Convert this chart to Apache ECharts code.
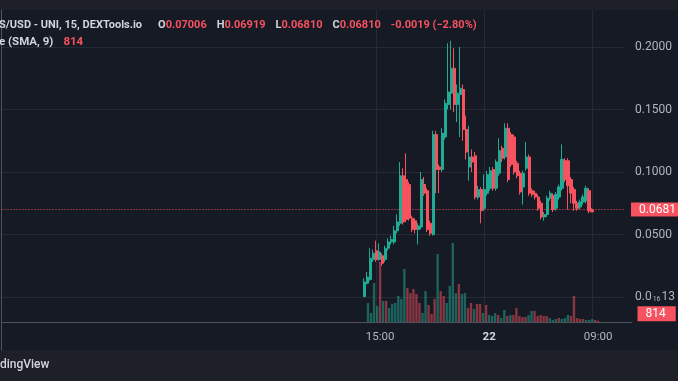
<!DOCTYPE html>
<html><head><meta charset="utf-8">
<script src="https://cdn.jsdelivr.net/npm/echarts@6/dist/echarts.min.js"></script>
<style>
html,body{margin:0;padding:0;background:#161a25;}
#wrap{position:relative;width:678px;height:381px;overflow:hidden;background:#161a25;}
#topbar{position:absolute;left:0;top:0;width:678px;height:10px;background:#1e2029;}
#botbar{position:absolute;left:0;top:350px;width:678px;height:31px;background:#1e2029;}
#chart{position:absolute;left:0;top:0;width:678px;height:381px;}
</style></head><body>
<div id="wrap"><div id="topbar"></div><div id="botbar"></div><div id="chart"></div></div>
<script>
// ---- time axis ----
const START_DAY = 20;
const START_TIME = '07:45';
const SLOT_COUNT = 209;
const SLOT_MIN = 15;
const tickLabels = {'21 15:00': '15:00', '22 00:00': '22', '22 09:00': '09:00'};
const priceTicks = [0, 0.05, 0.1, 0.15, 0.2];
const candleStart = '21 14:00';

// ---- OHLC (15 min candles) ----
const opens = [0.0003,0.011,0.014,0.030,0.037,0.030,0.033,0.030,0.039,0.044,0.044,0.053,0.059,0.097,0.094,0.090,0.063,0.061,0.054,0.056,0.090,0.085,0.059,0.050,0.130,0.104,0.102,0.128,0.154,0.163,0.183,0.154,0.162,0.166,0.134,0.104,0.112,
0.113,0.080,0.086,0.071,0.083,0.087,0.102,0.087,0.099,0.119,0.112,0.135,0.130,0.128,0.107,0.099,0.088,0.103,0.112,0.085,0.083,0.080,0.075,0.064,0.066,0.079,0.081,0.071,0.080,0.087,0.109,0.109,0.094,0.086,0.075,0.072,0.076,0.077,0.085,0.07006];
const closes = [0.012,0.016,0.031,0.035,0.030,0.036,0.027,0.039,0.044,0.046,0.053,0.060,0.097,0.060,0.062,0.063,0.054,0.054,0.057,0.094,0.083,0.054,0.051,0.130,0.102,0.102,0.131,0.155,0.164,0.183,0.154,0.163,0.167,0.134,0.116,0.112,0.108,
0.080,0.086,0.069,0.086,0.098,0.101,0.087,0.108,0.117,0.111,0.135,0.094,0.106,0.100,0.097,0.084,0.099,0.112,0.083,0.082,0.080,0.071,0.064,0.066,0.079,0.083,0.070,0.082,0.088,0.110,0.094,0.089,0.083,0.075,0.071,0.076,0.080,0.087,0.069,0.0681];
const lows = [0.0,0.010,0.013,0.028,0.028,0.029,0.025,0.028,0.037,0.042,0.042,0.051,0.057,0.058,0.060,0.061,0.052,0.051,0.042,0.054,0.081,0.052,0.049,0.049,0.083,0.083,0.100,0.126,0.150,0.150,0.148,0.140,0.128,0.125,0.110,0.093,0.100,
0.078,0.078,0.059,0.069,0.081,0.085,0.085,0.085,0.097,0.108,0.110,0.092,0.104,0.098,0.095,0.082,0.074,0.101,0.081,0.080,0.078,0.069,0.062,0.061,0.064,0.077,0.068,0.069,0.078,0.085,0.092,0.070,0.075,0.069,0.069,0.070,0.074,0.075,0.067,0.0680];
const highs = [0.015,0.020,0.039,0.038,0.045,0.043,0.035,0.041,0.047,0.049,0.057,0.066,0.108,0.103,0.115,0.092,0.065,0.063,0.059,0.100,0.096,0.087,0.061,0.133,0.133,0.106,0.135,0.158,0.203,0.205,0.199,0.170,0.200,0.170,0.145,0.137,0.118,
0.116,0.089,0.088,0.098,0.101,0.104,0.104,0.110,0.127,0.121,0.139,0.139,0.132,0.130,0.109,0.101,0.101,0.124,0.114,0.087,0.085,0.082,0.077,0.068,0.081,0.085,0.083,0.084,0.090,0.122,0.111,0.111,0.096,0.088,0.077,0.078,0.082,0.089,0.087,0.0710];
const volumes = [13300,6300,27300,11200,42000,14700,14700,9800,12600,13300,18200,16100,37100,23800,20300,23100,19600,13300,6300,21700,11900,5600,16100,47600,21700,18200,13300,25200,55300,20300,26600,19600,20300,9800,13300,9100,12600,
12600,6300,11900,4900,4200,6300,4900,2800,8400,4200,4900,4900,9800,4200,3500,3500,4900,7700,7700,4200,4900,4200,4200,2800,1400,2100,2800,2100,2800,4900,4200,18200,2800,2100,2100,1400,1400,2100,1400,814];

const legendPrice = {o: '0.07006', h: '0.06919', l: '0.06810', c: '0.06810', chg: '-0.0019 (\u22122.80%)'};

const UP = '#22ab94', DOWN = '#f7525f';
const UP_VOL = 'rgba(34,171,148,0.5)', DOWN_VOL = 'rgba(247,82,95,0.5)';
const FONT = 'Roboto';
const FS = 11;

function pad(n){ return (n < 10 ? '0' : '') + n; }
function buildSlots(){
  const out = [];
  const p = START_TIME.split(':').map(Number);
  const t0 = p[0] * 60 + p[1];
  for (let k = 0; k < SLOT_COUNT; k++) {
    const tt = t0 + k * SLOT_MIN;
    const d = START_DAY + Math.floor(tt / 1440);
    const r = tt % 1440;
    out.push(d + ' ' + pad(Math.floor(r / 60)) + ':' + pad(r % 60));
  }
  return out;
}
const slots = buildSlots();
const first = slots.indexOf(candleStart);
const candleData = slots.map(() => '-');
const volData = slots.map(() => '-');
opens.forEach((o, j) => {
  candleData[first + j] = [o, closes[j], lows[j], highs[j]];
  volData[first + j] = {value: volumes[j], itemStyle: {color: closes[j] >= o ? UP_VOL : DOWN_VOL}};
});
const lastClose = closes[closes.length - 1];
const lastVol = volumes[volumes.length - 1];
const isTick = (i, v) => tickLabels.hasOwnProperty(v);

const GL = 1.5, GW = 630;
const gray = {color: '#d1d4dc', fontSize: FS, fontFamily: FONT};
const red = {color: DOWN, fontSize: FS, fontFamily: FONT};
const chart = echarts.init(document.getElementById('chart'));
chart.setOption({
  backgroundColor: 'transparent',
  animation: false,
  title: [
    {left: -1, top: 16, padding: 0,
     text: '{t|S/USD - UNI, 15, DEXTools.io}  {g|O}{r|' + legendPrice.o + '}  {g|H}{r|' + legendPrice.h + '}  {g|L}{r|' + legendPrice.l + '}  {g|C}{r|' + legendPrice.c + '}  {r|' + legendPrice.chg + '}',
     textStyle: {rich: {t: Object.assign({padding: [0, 6, 0, 0]}, gray), g: gray, r: red}}},
    {left: -1, top: 33, padding: 0,
     text: '{g|e (SMA, 9)}  {r|' + lastVol + '}',
     textStyle: {rich: {g: Object.assign({}, gray, {fontSize: 11.5}), r: Object.assign({}, red, {fontSize: 11.5})}}},
    {left: 0, top: 359, padding: 0, text: 'dingView',
     textStyle: {color: '#d1d4dc', fontSize: 12, fontWeight: 500, fontFamily: FONT}}
  ],
  grid: [
    {left: GL, width: GW, top: 10, height: 312},
    {left: GL, width: GW, top: 222, height: 100},
    {left: GL, width: GW, top: 10, height: 340}
  ],
  xAxis: [
    {type: 'category', gridIndex: 0, data: slots, boundaryGap: false,
     axisLine: {show: false}, axisTick: {show: false}, axisLabel: {show: false},
     splitLine: {show: true, interval: isTick, lineStyle: {color: '#262a35', width: 1}}},
    {type: 'category', gridIndex: 1, data: slots, boundaryGap: false,
     axisLine: {show: true, lineStyle: {color: '#50535e'}}, axisTick: {show: false},
     axisLabel: {show: true, interval: isTick, margin: 9, color: '#b2b5be', fontSize: 11.5, fontFamily: FONT,
       formatter: v => v === '22 00:00' ? '{b|' + tickLabels[v] + '}' : tickLabels[v],
       rich: {b: {color: '#d1d4dc', fontWeight: 'bold', fontSize: 11.5, fontFamily: FONT}}},
     splitLine: {show: false}},
    {type: 'value', gridIndex: 2, show: false}
  ],
  yAxis: [
    {type: 'value', gridIndex: 0, position: 'right', min: -0.02, max: 0.2296,
     axisLine: {show: false},
     axisTick: {show: false, customValues: priceTicks},
     axisLabel: {show: true, customValues: priceTicks, margin: 10, color: '#b2b5be', fontSize: 12, fontFamily: FONT,
       formatter: v => v === 0 ? '{a|0.0}{s|16}{a|13}' : v.toFixed(4),
       rich: {a: {color: '#b2b5be', fontSize: 12, fontFamily: FONT}, s: {color: '#b2b5be', fontSize: 7, fontFamily: FONT, padding: [5, 1, 0, 1]}}},
     splitLine: {show: true, lineStyle: {color: '#262a35', width: 1}}},
    {type: 'value', gridIndex: 1, min: 0, max: 70000, show: false},
    {type: 'value', gridIndex: 2, position: 'right', min: 0, max: 1,
     axisLine: {show: true, lineStyle: {color: '#50535e'}}, axisTick: {show: false}, axisLabel: {show: false}, splitLine: {show: false}}
  ],
  series: [
    {type: 'bar', xAxisIndex: 1, yAxisIndex: 1, data: volData, barWidth: 2.4, silent: true,
     markLine: {symbol: ['none', 'none'], silent: true, animation: false,
       lineStyle: {color: 'rgba(0,0,0,0)', width: 0},
       label: {show: true, position: 'end', distance: 6, formatter: String(lastVol), offset: [0, -7],
         color: '#ffffff', backgroundColor: DOWN, padding: [2, 10, 1, 8], fontSize: 12, fontFamily: FONT},
       data: [{yAxis: lastVol}]}},
    {type: 'candlestick', xAxisIndex: 0, yAxisIndex: 0, data: candleData, barWidth: 2.6, silent: true,
     itemStyle: {color: UP, color0: DOWN, borderColor: UP, borderColor0: DOWN, borderWidth: 1},
     markLine: {symbol: ['none', 'none'], silent: true, animation: false,
       lineStyle: {color: DOWN, type: [1, 2], width: 1},
       label: {show: true, position: 'end', distance: 6, formatter: lastClose.toFixed(4),
         color: '#ffffff', backgroundColor: DOWN, padding: [1, 14, 1, 8], fontSize: 12, fontFamily: FONT},
       data: [{yAxis: lastClose}]}}
  ]
});
</script>
</body></html>
